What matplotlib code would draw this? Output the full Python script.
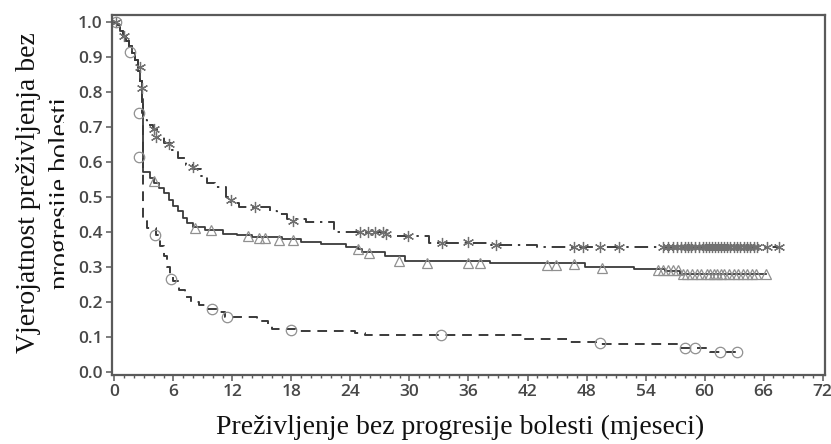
import numpy as np
import matplotlib
matplotlib.use("Agg")
import matplotlib.pyplot as plt
from matplotlib.patches import Rectangle
from matplotlib.ticker import MultipleLocator

# Kaplan-Meier step data (months, survival after each step)
early_t = [0.0, 0.3, 0.6, 0.9, 1.2, 1.5, 1.8, 2.1, 2.4, 2.6, 2.8]
early_s = [1.0, 0.99, 0.975, 0.96, 0.945, 0.93, 0.91, 0.89, 0.86, 0.83, 0.78]

star_t = [2.9, 3.3, 3.9, 4.3, 5.0, 5.8, 6.5, 7.3, 8.0, 8.8, 9.4, 10.2, 11.3, 11.8,
          12.7, 15.8, 16.5, 17.5, 19.5, 22.3, 28.0, 32.0, 38.3, 43.0, 67.6]
star_s = [0.72, 0.705, 0.695, 0.67, 0.655, 0.635, 0.61, 0.59, 0.58, 0.56, 0.54, 0.527,
          0.50, 0.483, 0.47, 0.46, 0.45, 0.437, 0.428, 0.40, 0.388, 0.368, 0.362, 0.356, 0.356]

tri_t = [2.9, 3.6, 4.0, 4.5, 5.0, 5.5, 6.0, 6.5, 7.0, 7.4, 8.0, 9.2, 11.0, 12.5, 14.0,
         17.0, 19.0, 21.0, 23.5, 24.8, 25.2, 27.5, 29.5, 38.2, 47.8, 52.8, 56.0, 57.5, 66.2]
tri_s = [0.57, 0.555, 0.54, 0.525, 0.51, 0.49, 0.475, 0.46, 0.44, 0.425, 0.415, 0.405,
         0.395, 0.39, 0.385, 0.38, 0.372, 0.365, 0.358, 0.35, 0.343, 0.33, 0.318, 0.31,
         0.30, 0.293, 0.288, 0.28, 0.28]

circ_t = [2.85, 2.88, 2.9, 3.3, 4.2, 4.6, 5.0, 5.3, 5.6, 6.0, 6.6, 7.2, 7.8, 8.6, 9.5,
          10.5, 11.2, 14.5, 15.6, 16.0, 18.5, 24.5, 25.5, 41.5, 46.3, 49.0, 57.6, 60.6, 63.4]
circ_s = [0.74, 0.61, 0.43, 0.41, 0.39, 0.36, 0.33, 0.30, 0.275, 0.26, 0.235, 0.215, 0.20,
          0.19, 0.18, 0.17, 0.157, 0.144, 0.133, 0.122, 0.117, 0.112, 0.105, 0.095, 0.086,
          0.08, 0.067, 0.057, 0.057]

# Censored observations (time, survival)
star_cens_t = [0.2, 1.0, 2.6, 2.8, 4.0, 4.2, 5.5, 8.0, 11.8, 14.3, 18.2, 25.0, 25.8,
               26.5, 27.3, 27.6, 29.8, 33.3, 35.9, 38.8, 46.7, 47.6, 49.4, 51.3,
               55.8, 56.3, 56.8, 57.2, 57.6, 58.0, 58.3, 58.6, 59.0, 59.4, 59.8, 60.1,
               60.5, 60.8, 61.1, 61.4, 61.7, 62.0, 62.3, 62.6, 63.0, 63.3, 63.6, 64.0,
               64.3, 64.6, 65.0, 65.3, 66.4, 67.6]
star_cens_s = [1.0, 0.96, 0.87, 0.81, 0.695, 0.67, 0.65, 0.585, 0.49, 0.47, 0.43, 0.40,
               0.40, 0.40, 0.40, 0.393, 0.388, 0.368, 0.37, 0.362] + [0.356] * 34

tri_cens_t = [4.0, 8.2, 9.8, 13.6, 14.7, 15.3, 16.7, 18.2, 24.8, 25.9, 28.9, 31.8, 36.0,
              37.2, 44.0, 44.9, 46.7, 49.6, 55.3, 55.8, 56.3, 56.8, 57.3,
              57.8, 58.2, 58.7, 59.2, 59.6, 60.3, 60.6, 61.0, 61.3, 61.7, 62.0, 62.5,
              63.0, 63.4, 63.9, 64.3, 64.8, 65.2, 66.2]
tri_cens_s = [0.546, 0.41, 0.405, 0.387, 0.382, 0.382, 0.378, 0.377, 0.35, 0.34, 0.318,
              0.31, 0.31, 0.31, 0.305, 0.305, 0.307, 0.296, 0.29, 0.29, 0.29, 0.29, 0.29] \
             + [0.28] * 19

circ_cens_t = [0.2, 1.6, 2.5, 2.5, 4.1, 5.7, 9.9, 11.4, 18.0, 33.2, 49.4, 58.0, 59.0, 61.6, 63.3]
circ_cens_s = [1.0, 0.915, 0.74, 0.615, 0.39, 0.265, 0.18, 0.157, 0.12, 0.104, 0.082,
               0.067, 0.067, 0.057, 0.057]

x_ticks = list(range(0, 73, 6))
y_ticks = [round(0.1 * i, 1) for i in range(11)]

W, H = 831, 444
fig = plt.figure(figsize=(W / 100, H / 100), dpi=100)
ax = fig.add_axes([111.7 / W, 1 - 375 / H, (825 - 111.7) / W, (375 - 15) / H])
ax.set_zorder(5)

line_col = "#3a3a3a"
mark_col = "#909090"

def km(ts, ss):
    t = np.array(early_t + ts)
    s = np.array(early_s + ss)
    return t, s

t, s = km(star_t, star_s)
ax.step(t, s, where="post", color=line_col, lw=1.4, dashes=(7, 3, 1.2, 3))
t, s = km(tri_t, tri_s)
ax.step(t, s, where="post", color=line_col, lw=1.3)
t, s = km(circ_t, circ_s)
ax.step(t, s, where="post", color=line_col, lw=1.4, dashes=(5, 3.5))

ax.plot(star_cens_t, star_cens_s, ls="none", marker=(6, 2, 0), ms=8,
        mec="#707070", mew=0.9)
ax.plot(tri_cens_t, tri_cens_s, ls="none", marker="^", ms=7, mfc="none",
        mec=mark_col, mew=0.9)
ax.plot(circ_cens_t, circ_cens_s, ls="none", marker="o", ms=7.5, mfc="none",
        mec=mark_col, mew=0.9)

ax.set_xlim(-0.28, 72.25)
ax.set_ylim(-0.009, 1.02)
ax.set_xticks(x_ticks)
ax.set_yticks(y_ticks)
ax.set_yticklabels([f"{v:.1f}" for v in y_ticks])
ax.xaxis.set_minor_locator(MultipleLocator(1))

for sp in ax.spines.values():
    sp.set_color("#5a5a5a")
    sp.set_linewidth(1.6)

ax.tick_params(axis="both", which="major", direction="out", length=4.5, width=1.1,
               color="#5a5a5a", labelsize=12.5, labelcolor="#484848", pad=2)
ax.tick_params(axis="x", which="minor", direction="out", length=2.5, width=1.0,
               color="#5a5a5a")
for lab in ax.get_xticklabels() + ax.get_yticklabels():
    lab.set_family("Open Sans")
    lab.set_fontweight("semibold")

# axis titles
serif = "Liberation Serif"
fig.text(35 / W, 1 - 192.5 / H, "Vjerojatnost preživljenja bez", rotation=90,
         rotation_mode="anchor", ha="center", va="baseline", fontsize=20,
         family=serif, color="#111111", zorder=1)
fig.text(68 / W, 1 - 193 / H, "progresije bolesti", rotation=90,
         rotation_mode="anchor", ha="center", va="baseline", fontsize=20,
         family=serif, color="#111111", zorder=1)
fig.patches.append(Rectangle((63.5 / W, 0), (109 - 63.5) / W, 1,
                             transform=fig.transFigure, facecolor="white",
                             edgecolor="none", zorder=2))
fig.text(460 / W, 1 - 434 / H, "Preživljenje bez progresije bolesti (mjeseci)",
         ha="center", va="baseline", fontsize=20, family=serif, color="#111111")

fig.savefig("out.png", dpi=100)
